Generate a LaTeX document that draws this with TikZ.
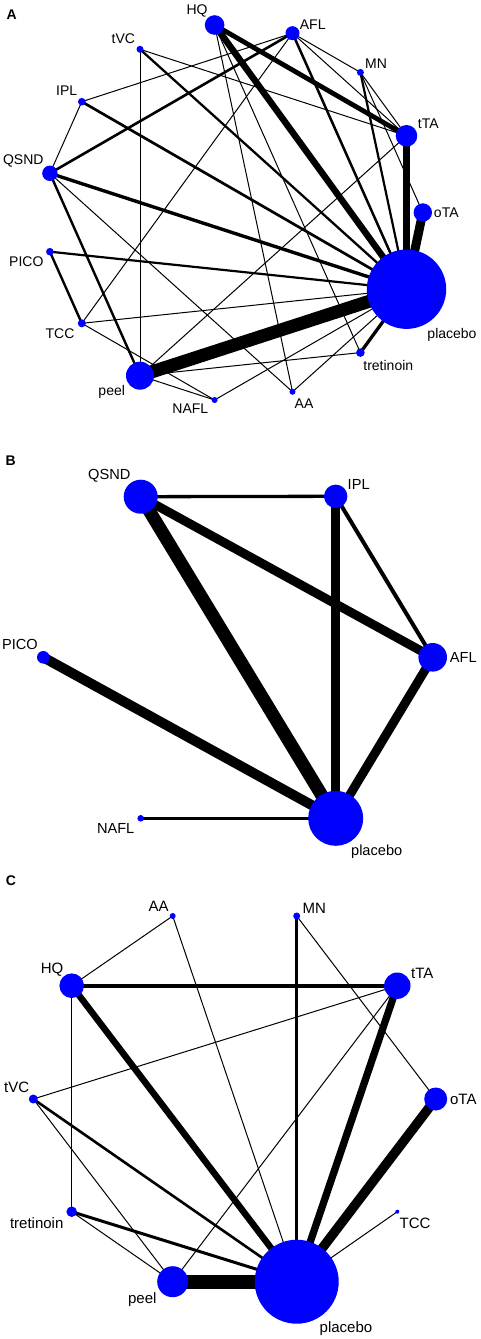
\documentclass[tikz,border=0pt]{standalone}
\usepackage{fontspec}
\setmainfont{Liberation Sans}
\usetikzlibrary{backgrounds}
\begin{document}
\begin{tikzpicture}[x=1bp,y=-1bp,
  nd/.style={circle,fill=blue,draw=none,inner sep=0pt,minimum size=#1},
  labA/.style={font=\fontsize{14bp}{16bp}\selectfont,inner sep=0pt,text height=10bp,text depth=0pt},
  labB/.style={font=\fontsize{14.6bp}{16bp}\selectfont,inner sep=0pt,text height=10.4bp,text depth=0pt},
  labC/.style={font=\fontsize{15bp}{17bp}\selectfont,inner sep=0pt,text height=10.7bp,text depth=0pt},
  panel/.style={font=\fontsize{14bp}{16bp}\selectfont\bfseries,inner sep=0pt,text height=10bp,text depth=0pt},
  lw/.style={line width=#1,draw=black}]
\useasboundingbox (0,0) rectangle (481,1339);

% ---------------- Panel A ----------------
\node[panel] (pA) at (11.7,14.3) {A};
\node[nd=18.4bp] (aoTA) at (422.8,212.5) {};
\node[nd=21.6bp] (atTA) at (406.5,135.8) {};
\node[nd=7bp] (aMN) at (360.4,72.4) {};
\node[nd=14bp] (aAFL) at (292.5,33.2) {};
\node[nd=19.6bp] (aHQ) at (214.6,25.0) {};
\node[nd=7bp] (atVC) at (140.0,49.3) {};
\node[nd=7.6bp] (aIPL) at (81.8,101.7) {};
\node[nd=15.4bp] (aQSND) at (49.9,173.3) {};
\node[nd=7.6bp] (aPICO) at (49.9,251.7) {};
\node[nd=8bp] (aTCC) at (81.8,323.3) {};
\node[nd=28bp] (apeel) at (140.0,375.7) {};
\node[nd=6bp] (aNAFL) at (214.6,400.0) {};
\node[nd=6bp] (aAA) at (292.5,391.8) {};
\node[nd=8.6bp] (atret) at (360.4,352.6) {};
\node[nd=79.4bp] (apl) at (406.5,289.2) {};

\node[labA] (laHQ) at (197,10) {HQ};
\node[labA] (laAFL) at (312.7,24.3) {AFL};
\node[labA] (latVC) at (123.3,38.3) {tVC};
\node[labA] (laMN) at (376,63.3) {MN};
\node[labA] (laIPL) at (66.7,91) {IPL};
\node[labA] (latTA) at (428.3,124) {tTA};
\node[labA] (laQSND) at (23.3,159.3) {QSND};
\node[labA] (laoTA) at (446.3,212.3) {oTA};
\node[labA] (laPICO) at (26.3,262) {PICO};
\node[labA] (lapl) at (452,333.3) {placebo};
\node[labA] (laTCC) at (60,333.3) {TCC};
\node[labA] (latret) at (388.3,365.3) {tretinoin};
\node[labA] (lapeel) at (111.7,390.7) {peel};
\node[labA] (laNAFL) at (190.3,408.7) {NAFL};
\node[labA] (laAA) at (304,403.3) {AA};

\begin{pgfonlayer}{background}
\draw[lw=9bp] (apl.center) -- (aoTA.center);
\draw[lw=7.5bp] (apl.center) -- (atTA.center);
\draw[lw=6.5bp] (apl.center) -- (aHQ.center);
\draw[lw=13bp] (apl.center) -- (apeel.center);
\draw[lw=3.4bp] (apl.center) -- (aQSND.center);
\draw[lw=2.7bp] (apl.center) -- (aIPL.center);
\draw[lw=2.3bp] (apl.center) -- (atVC.center);
\draw[lw=2.5bp] (apl.center) -- (aAFL.center);
\draw[lw=2.2bp] (apl.center) -- (aMN.center);
\draw[lw=2.2bp] (apl.center) -- (aPICO.center);
\draw[lw=1bp] (apl.center) -- (aTCC.center);
\draw[lw=3.3bp] (apl.center) -- (atret.center);
\draw[lw=1bp] (apl.center) -- (aAA.center);
\draw[lw=1bp] (apl.center) -- (aNAFL.center);
\draw[lw=4.8bp] (aHQ.center) -- (atTA.center);
\draw[lw=1bp] (aHQ.center) -- (aAA.center);
\draw[lw=1bp] (aHQ.center) -- (atret.center);
\draw[lw=1bp] (aAFL.center) -- (aIPL.center);
\draw[lw=2.6bp] (aAFL.center) -- (aQSND.center);
\draw[lw=1bp] (aAFL.center) -- (aTCC.center);
\draw[lw=1bp] (aAFL.center) -- (atTA.center);
\draw[lw=1bp] (aAFL.center) -- (aMN.center);
\draw[lw=1bp] (aMN.center) -- (atTA.center);
\draw[lw=1bp] (aMN.center) -- (aoTA.center);
\draw[lw=1bp] (atVC.center) -- (atTA.center);
\draw[lw=1bp] (atVC.center) -- (apeel.center);
\draw[lw=1bp] (aIPL.center) -- (aQSND.center);
\draw[lw=2.4bp] (aQSND.center) -- (apeel.center);
\draw[lw=1bp] (aQSND.center) -- (aAA.center);
\draw[lw=2.4bp] (aPICO.center) -- (aTCC.center);
\draw[lw=1bp] (aTCC.center) -- (aNAFL.center);
\draw[lw=1bp] (apeel.center) -- (atret.center);
\draw[lw=1bp] (apeel.center) -- (aNAFL.center);
\draw[lw=1bp] (apeel.center) -- (atTA.center);
\end{pgfonlayer}

% ---------------- Panel B ----------------
\node[panel] (pB) at (10.7,460) {B};
\node[nd=34bp] (bQSND) at (140.7,496.7) {};
\node[nd=23.4bp] (bIPL) at (335.7,496.3) {};
\node[nd=28.6bp] (bAFL) at (432.7,657.3) {};
\node[nd=55bp] (bpl) at (335.7,818.3) {};
\node[nd=6.6bp] (bNAFL) at (140.7,818.3) {};
\node[nd=12.6bp] (bPICO) at (43.3,657.3) {};

\node[labB] (lbQSND) at (109.3,474.7) {QSND};
\node[labB] (lbIPL) at (358.7,484.7) {IPL};
\node[labB] (lbPICO) at (20,644.3) {PICO};
\node[labB] (lbAFL) at (463.3,657.7) {AFL};
\node[labB] (lbNAFL) at (115.7,828.7) {NAFL};
\node[labB] (lbpl) at (376.7,850.7) {placebo};

\begin{pgfonlayer}{background}
\draw[lw=3.3bp] (bQSND.center) -- (bIPL.center);
\draw[lw=13bp] (bQSND.center) -- (bpl.center);
\draw[lw=9bp] (bQSND.center) -- (bAFL.center);
\draw[lw=9bp] (bIPL.center) -- (bpl.center);
\draw[lw=4bp] (bIPL.center) -- (bAFL.center);
\draw[lw=9bp] (bAFL.center) -- (bpl.center);
\draw[lw=10bp] (bPICO.center) -- (bpl.center);
\draw[lw=3.3bp] (bNAFL.center) -- (bpl.center);
\end{pgfonlayer}

% ---------------- Panel C ----------------
\node[panel] (pC) at (11,880.7) {C};
\node[nd=6bp] (cAA) at (172.7,916) {};
\node[nd=7bp] (cMN) at (296.7,916) {};
\node[nd=24.6bp] (cHQ) at (71.7,985.7) {};
\node[nd=26.4bp] (ctTA) at (397.3,985.7) {};
\node[nd=9bp] (ctVC) at (33.3,1099) {};
\node[nd=23bp] (coTA) at (435.7,1099) {};
\node[nd=10.6bp] (ctret) at (71.7,1211.7) {};
\node[nd=4bp] (cTCC) at (397.3,1211.7) {};
\node[nd=31bp] (cpeel) at (172.7,1281.7) {};
\node[nd=84bp] (cpl) at (296.7,1281.7) {};

\node[labC] (lcAA) at (158.7,906) {AA};
\node[labC] (lcMN) at (314.3,907.7) {MN};
\node[labC] (lcHQ) at (52,968.3) {HQ};
\node[labC] (lctTA) at (422.3,973) {tTA};
\node[labC] (lctVC) at (16.7,1087.3) {tVC};
\node[labC] (lcoTA) at (463.3,1099.3) {oTA};
\node[labC] (lctret) at (36.7,1223.3) {tretinoin};
\node[labC] (lcTCC) at (415,1223.3) {TCC};
\node[labC] (lcpeel) at (142.3,1298) {peel};
\node[labC] (lcpl) at (346,1326.7) {placebo};

\begin{pgfonlayer}{background}
\draw[lw=1bp] (cAA.center) -- (cHQ.center);
\draw[lw=1bp] (cAA.center) -- (cpl.center);
\draw[lw=2.6bp] (cMN.center) -- (cpl.center);
\draw[lw=1bp] (cMN.center) -- (coTA.center);
\draw[lw=4bp] (cHQ.center) -- (ctTA.center);
\draw[lw=6.5bp] (cHQ.center) -- (cpl.center);
\draw[lw=1bp] (cHQ.center) -- (ctret.center);
\draw[lw=1bp] (ctTA.center) -- (ctVC.center);
\draw[lw=7.3bp] (ctTA.center) -- (cpl.center);
\draw[lw=1bp] (ctTA.center) -- (cpeel.center);
\draw[lw=9.5bp] (coTA.center) -- (cpl.center);
\draw[lw=2.6bp] (ctVC.center) -- (cpl.center);
\draw[lw=1bp] (ctVC.center) -- (cpeel.center);
\draw[lw=3bp] (ctret.center) -- (cpl.center);
\draw[lw=1bp] (ctret.center) -- (cpeel.center);
\draw[lw=1bp] (cTCC.center) -- (cpl.center);
\draw[lw=14bp] (cpeel.center) -- (cpl.center);
\end{pgfonlayer}
\end{tikzpicture}
\end{document}
